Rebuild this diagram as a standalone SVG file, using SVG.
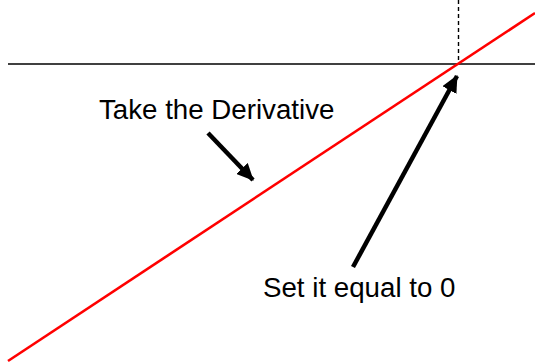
<svg xmlns="http://www.w3.org/2000/svg" width="535" height="363" viewBox="0 0 535 363">
<style>
.lbl{font-family:"Liberation Sans",Arial,sans-serif;font-size:27.7px;fill:#000}
.arr{stroke:#000;stroke-width:4.5;fill:none}
</style>
<defs>
<marker id="ah" markerUnits="userSpaceOnUse" markerWidth="18" markerHeight="16" refX="16" refY="8" orient="auto">
<path d="M0,0 L17,8 L0,16 Z" fill="#000"/>
</marker>
</defs>
<rect width="535" height="363" fill="#fff"/>
<g id="axes">
<line x1="8" y1="64" x2="535" y2="64" stroke="#000" stroke-width="1.6"/>
<line x1="458.5" y1="0" x2="458.5" y2="64" stroke="#000" stroke-width="1.4" stroke-dasharray="4,3"/>
</g>
<g id="derivative-line">
<line x1="8" y1="361" x2="535" y2="13" stroke="#f00" stroke-width="2.6"/>
</g>
<g id="label-derivative"><text class="lbl" x="99" y="119">Take the Derivative</text></g>
<g id="label-zero"><text class="lbl" x="263" y="297">Set it equal to 0</text></g>
<g id="connectors">
<line class="arr" x1="208" y1="133" x2="253" y2="180" marker-end="url(#ah)"/>
<line class="arr" x1="353" y1="267" x2="457" y2="76" marker-end="url(#ah)"/>
</g>
</svg>
